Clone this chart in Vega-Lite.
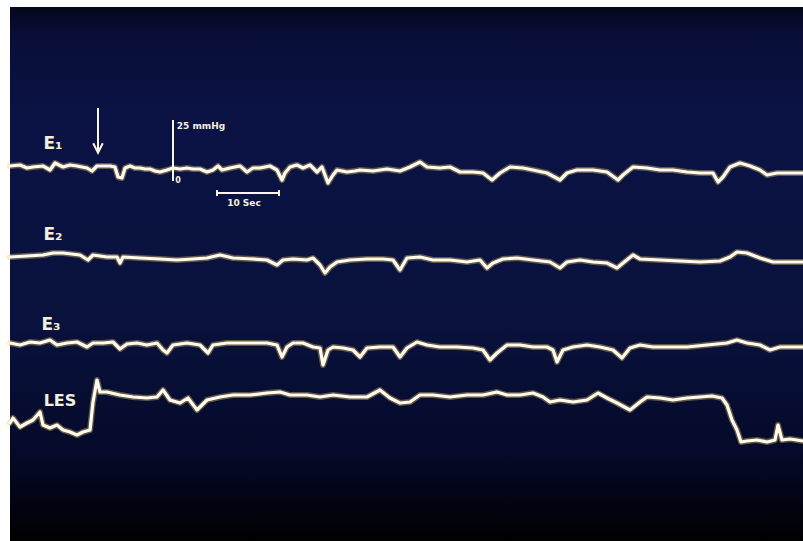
{
  "$schema": "https://vega.github.io/schema/vega-lite/v6.json",
  "width": 793,
  "height": 534,
  "autosize": {"type": "none"},
  "padding": {"left": 10, "top": 7, "right": 0, "bottom": 0},
  "background": "white",
  "title": {"text": "g", "font": "Liberation Serif", "fontSize": 22, "fontWeight": "normal", "color": "#000000", "anchor": "middle", "baseline": "alphabetic", "offset": 7, "frame": "group"},
  "config": {"view": {"stroke": null}},
  "datasets": {
    "traces": [
      {"trace":"E1","x":10,"v":375},{"trace":"E1","x":20,"v":376},{"trace":"E1","x":27,"v":373},{"trace":"E1","x":33,"v":374},{"trace":"E1","x":43,"v":375},{"trace":"E1","x":50,"v":371},{"trace":"E1","x":55,"v":378},{"trace":"E1","x":63,"v":374},{"trace":"E1","x":70,"v":376},{"trace":"E1","x":77,"v":375},{"trace":"E1","x":87,"v":373},{"trace":"E1","x":92,"v":370},{"trace":"E1","x":97,"v":375},{"trace":"E1","x":105,"v":375},{"trace":"E1","x":110,"v":375},{"trace":"E1","x":115,"v":374},{"trace":"E1","x":118,"v":364},{"trace":"E1","x":122,"v":363},{"trace":"E1","x":125,"v":373},{"trace":"E1","x":130,"v":375},{"trace":"E1","x":135,"v":373},{"trace":"E1","x":140,"v":373},{"trace":"E1","x":145,"v":372},{"trace":"E1","x":150,"v":372},{"trace":"E1","x":155,"v":370},{"trace":"E1","x":160,"v":369},{"trace":"E1","x":167,"v":371},{"trace":"E1","x":173,"v":373},{"trace":"E1","x":180,"v":372},{"trace":"E1","x":187,"v":373},{"trace":"E1","x":193,"v":372},{"trace":"E1","x":200,"v":372},{"trace":"E1","x":207,"v":369},{"trace":"E1","x":213,"v":371},{"trace":"E1","x":218,"v":375},{"trace":"E1","x":222,"v":371},{"trace":"E1","x":230,"v":373},{"trace":"E1","x":235,"v":374},{"trace":"E1","x":240,"v":375},{"trace":"E1","x":247,"v":369},{"trace":"E1","x":253,"v":373},{"trace":"E1","x":260,"v":373},{"trace":"E1","x":265,"v":374},{"trace":"E1","x":270,"v":375},{"trace":"E1","x":277,"v":371},{"trace":"E1","x":282,"v":361},{"trace":"E1","x":285,"v":368},{"trace":"E1","x":290,"v":374},{"trace":"E1","x":297,"v":376},{"trace":"E1","x":303,"v":373},{"trace":"E1","x":310,"v":376},{"trace":"E1","x":317,"v":369},{"trace":"E1","x":322,"v":374},{"trace":"E1","x":328,"v":358},{"trace":"E1","x":333,"v":366},{"trace":"E1","x":337,"v":371},{"trace":"E1","x":347,"v":369},{"trace":"E1","x":355,"v":370},{"trace":"E1","x":360,"v":371},{"trace":"E1","x":373,"v":370},{"trace":"E1","x":387,"v":372},{"trace":"E1","x":400,"v":370},{"trace":"E1","x":410,"v":374},{"trace":"E1","x":420,"v":379},{"trace":"E1","x":427,"v":374},{"trace":"E1","x":440,"v":373},{"trace":"E1","x":450,"v":374},{"trace":"E1","x":460,"v":369},{"trace":"E1","x":473,"v":369},{"trace":"E1","x":483,"v":368},{"trace":"E1","x":492,"v":361},{"trace":"E1","x":500,"v":368},{"trace":"E1","x":510,"v":374},{"trace":"E1","x":523,"v":373},{"trace":"E1","x":533,"v":371},{"trace":"E1","x":547,"v":368},{"trace":"E1","x":560,"v":361},{"trace":"E1","x":567,"v":368},{"trace":"E1","x":577,"v":371},{"trace":"E1","x":593,"v":371},{"trace":"E1","x":607,"v":369},{"trace":"E1","x":618,"v":361},{"trace":"E1","x":623,"v":366},{"trace":"E1","x":633,"v":374},{"trace":"E1","x":647,"v":373},{"trace":"E1","x":660,"v":371},{"trace":"E1","x":673,"v":371},{"trace":"E1","x":687,"v":369},{"trace":"E1","x":700,"v":368},{"trace":"E1","x":713,"v":368},{"trace":"E1","x":718,"v":359},{"trace":"E1","x":723,"v":364},{"trace":"E1","x":730,"v":374},{"trace":"E1","x":740,"v":378},{"trace":"E1","x":750,"v":375},{"trace":"E1","x":760,"v":371},{"trace":"E1","x":767,"v":366},{"trace":"E1","x":777,"v":368},{"trace":"E1","x":787,"v":368},{"trace":"E1","x":803,"v":368},

      {"trace":"E2","x":10,"v":284},{"trace":"E2","x":27,"v":285},{"trace":"E2","x":43,"v":286},{"trace":"E2","x":53,"v":288},{"trace":"E2","x":63,"v":288},{"trace":"E2","x":80,"v":286},{"trace":"E2","x":88,"v":281},{"trace":"E2","x":93,"v":286},{"trace":"E2","x":107,"v":284},{"trace":"E2","x":117,"v":284},{"trace":"E2","x":120,"v":278},{"trace":"E2","x":123,"v":284},{"trace":"E2","x":140,"v":283},{"trace":"E2","x":160,"v":282},{"trace":"E2","x":177,"v":281},{"trace":"E2","x":193,"v":282},{"trace":"E2","x":207,"v":283},{"trace":"E2","x":220,"v":286},{"trace":"E2","x":233,"v":283},{"trace":"E2","x":253,"v":282},{"trace":"E2","x":267,"v":281},{"trace":"E2","x":277,"v":276},{"trace":"E2","x":283,"v":281},{"trace":"E2","x":293,"v":282},{"trace":"E2","x":307,"v":281},{"trace":"E2","x":313,"v":283},{"trace":"E2","x":320,"v":276},{"trace":"E2","x":325,"v":268},{"trace":"E2","x":330,"v":274},{"trace":"E2","x":337,"v":279},{"trace":"E2","x":350,"v":281},{"trace":"E2","x":367,"v":282},{"trace":"E2","x":383,"v":282},{"trace":"E2","x":393,"v":281},{"trace":"E2","x":400,"v":271},{"trace":"E2","x":407,"v":283},{"trace":"E2","x":420,"v":284},{"trace":"E2","x":433,"v":281},{"trace":"E2","x":450,"v":281},{"trace":"E2","x":467,"v":279},{"trace":"E2","x":480,"v":281},{"trace":"E2","x":487,"v":273},{"trace":"E2","x":493,"v":278},{"trace":"E2","x":503,"v":282},{"trace":"E2","x":517,"v":283},{"trace":"E2","x":533,"v":281},{"trace":"E2","x":550,"v":279},{"trace":"E2","x":560,"v":273},{"trace":"E2","x":567,"v":279},{"trace":"E2","x":580,"v":281},{"trace":"E2","x":593,"v":279},{"trace":"E2","x":607,"v":278},{"trace":"E2","x":617,"v":273},{"trace":"E2","x":623,"v":278},{"trace":"E2","x":633,"v":286},{"trace":"E2","x":640,"v":282},{"trace":"E2","x":660,"v":281},{"trace":"E2","x":680,"v":280},{"trace":"E2","x":700,"v":279},{"trace":"E2","x":720,"v":280},{"trace":"E2","x":730,"v":284},{"trace":"E2","x":737,"v":289},{"trace":"E2","x":747,"v":288},{"trace":"E2","x":760,"v":283},{"trace":"E2","x":773,"v":279},{"trace":"E2","x":787,"v":279},{"trace":"E2","x":803,"v":279},

      {"trace":"E3","x":10,"v":198},{"trace":"E3","x":20,"v":196},{"trace":"E3","x":30,"v":199},{"trace":"E3","x":40,"v":198},{"trace":"E3","x":50,"v":201},{"trace":"E3","x":57,"v":196},{"trace":"E3","x":67,"v":198},{"trace":"E3","x":77,"v":199},{"trace":"E3","x":87,"v":194},{"trace":"E3","x":93,"v":198},{"trace":"E3","x":103,"v":198},{"trace":"E3","x":113,"v":199},{"trace":"E3","x":120,"v":192},{"trace":"E3","x":127,"v":197},{"trace":"E3","x":137,"v":198},{"trace":"E3","x":147,"v":196},{"trace":"E3","x":157,"v":198},{"trace":"E3","x":163,"v":191},{"trace":"E3","x":167,"v":188},{"trace":"E3","x":173,"v":196},{"trace":"E3","x":187,"v":198},{"trace":"E3","x":200,"v":196},{"trace":"E3","x":208,"v":188},{"trace":"E3","x":213,"v":196},{"trace":"E3","x":227,"v":198},{"trace":"E3","x":240,"v":198},{"trace":"E3","x":253,"v":198},{"trace":"E3","x":267,"v":198},{"trace":"E3","x":277,"v":196},{"trace":"E3","x":282,"v":184},{"trace":"E3","x":287,"v":194},{"trace":"E3","x":293,"v":198},{"trace":"E3","x":303,"v":198},{"trace":"E3","x":313,"v":194},{"trace":"E3","x":320,"v":193},{"trace":"E3","x":323,"v":176},{"trace":"E3","x":328,"v":191},{"trace":"E3","x":333,"v":194},{"trace":"E3","x":343,"v":193},{"trace":"E3","x":353,"v":191},{"trace":"E3","x":360,"v":184},{"trace":"E3","x":367,"v":193},{"trace":"E3","x":380,"v":194},{"trace":"E3","x":393,"v":194},{"trace":"E3","x":400,"v":184},{"trace":"E3","x":407,"v":193},{"trace":"E3","x":417,"v":199},{"trace":"E3","x":427,"v":196},{"trace":"E3","x":440,"v":194},{"trace":"E3","x":457,"v":194},{"trace":"E3","x":473,"v":193},{"trace":"E3","x":483,"v":191},{"trace":"E3","x":490,"v":181},{"trace":"E3","x":497,"v":188},{"trace":"E3","x":507,"v":196},{"trace":"E3","x":520,"v":196},{"trace":"E3","x":533,"v":194},{"trace":"E3","x":547,"v":194},{"trace":"E3","x":553,"v":191},{"trace":"E3","x":557,"v":179},{"trace":"E3","x":563,"v":191},{"trace":"E3","x":573,"v":194},{"trace":"E3","x":587,"v":196},{"trace":"E3","x":600,"v":194},{"trace":"E3","x":613,"v":191},{"trace":"E3","x":622,"v":183},{"trace":"E3","x":630,"v":193},{"trace":"E3","x":640,"v":196},{"trace":"E3","x":653,"v":194},{"trace":"E3","x":667,"v":194},{"trace":"E3","x":687,"v":194},{"trace":"E3","x":707,"v":196},{"trace":"E3","x":727,"v":198},{"trace":"E3","x":737,"v":201},{"trace":"E3","x":747,"v":198},{"trace":"E3","x":760,"v":196},{"trace":"E3","x":770,"v":191},{"trace":"E3","x":780,"v":194},{"trace":"E3","x":793,"v":194},{"trace":"E3","x":803,"v":194},

      {"trace":"LES","x":10,"v":118},{"trace":"LES","x":13,"v":123},{"trace":"LES","x":20,"v":114},{"trace":"LES","x":27,"v":118},{"trace":"LES","x":33,"v":121},{"trace":"LES","x":40,"v":129},{"trace":"LES","x":43,"v":116},{"trace":"LES","x":50,"v":113},{"trace":"LES","x":57,"v":116},{"trace":"LES","x":63,"v":111},{"trace":"LES","x":70,"v":109},{"trace":"LES","x":77,"v":106},{"trace":"LES","x":83,"v":109},{"trace":"LES","x":90,"v":111},{"trace":"LES","x":93,"v":139},{"trace":"LES","x":97,"v":161},{"trace":"LES","x":100,"v":149},{"trace":"LES","x":107,"v":149},{"trace":"LES","x":120,"v":146},{"trace":"LES","x":133,"v":144},{"trace":"LES","x":147,"v":143},{"trace":"LES","x":157,"v":144},{"trace":"LES","x":163,"v":151},{"trace":"LES","x":170,"v":141},{"trace":"LES","x":180,"v":138},{"trace":"LES","x":188,"v":143},{"trace":"LES","x":197,"v":131},{"trace":"LES","x":207,"v":141},{"trace":"LES","x":220,"v":144},{"trace":"LES","x":233,"v":146},{"trace":"LES","x":250,"v":146},{"trace":"LES","x":267,"v":148},{"trace":"LES","x":280,"v":149},{"trace":"LES","x":290,"v":146},{"trace":"LES","x":307,"v":146},{"trace":"LES","x":320,"v":144},{"trace":"LES","x":333,"v":146},{"trace":"LES","x":350,"v":144},{"trace":"LES","x":367,"v":144},{"trace":"LES","x":380,"v":151},{"trace":"LES","x":390,"v":143},{"trace":"LES","x":400,"v":138},{"trace":"LES","x":410,"v":139},{"trace":"LES","x":420,"v":146},{"trace":"LES","x":433,"v":146},{"trace":"LES","x":450,"v":144},{"trace":"LES","x":467,"v":146},{"trace":"LES","x":483,"v":146},{"trace":"LES","x":497,"v":149},{"trace":"LES","x":507,"v":146},{"trace":"LES","x":520,"v":146},{"trace":"LES","x":533,"v":148},{"trace":"LES","x":543,"v":144},{"trace":"LES","x":550,"v":139},{"trace":"LES","x":560,"v":141},{"trace":"LES","x":573,"v":139},{"trace":"LES","x":587,"v":141},{"trace":"LES","x":598,"v":148},{"trace":"LES","x":607,"v":143},{"trace":"LES","x":617,"v":138},{"trace":"LES","x":630,"v":131},{"trace":"LES","x":640,"v":139},{"trace":"LES","x":647,"v":144},{"trace":"LES","x":660,"v":143},{"trace":"LES","x":673,"v":141},{"trace":"LES","x":687,"v":143},{"trace":"LES","x":700,"v":144},{"trace":"LES","x":712,"v":145},{"trace":"LES","x":722,"v":143},{"trace":"LES","x":727,"v":136},{"trace":"LES","x":732,"v":121},{"trace":"LES","x":737,"v":111},{"trace":"LES","x":741,"v":99},{"trace":"LES","x":747,"v":100},{"trace":"LES","x":757,"v":101},{"trace":"LES","x":767,"v":99},{"trace":"LES","x":775,"v":101},{"trace":"LES","x":778,"v":116},{"trace":"LES","x":782,"v":101},{"trace":"LES","x":790,"v":102},{"trace":"LES","x":803,"v":100}
    ],
    "labels": [
      {"label":"E₁","x":53,"v":397,"size":17},
      {"label":"E₂","x":53,"v":306,"size":17},
      {"label":"E₃","x":51,"v":216,"size":17},
      {"label":"LES","x":60,"v":140,"size":16},
      {"label":"25 mmHg","x":201,"v":415,"size":9},
      {"label":"0","x":178,"v":360,"size":8},
      {"label":"10 Sec","x":244,"v":338,"size":9}
    ],
    "rules": [
      {"part":"arrow","x":98,"x2":98,"v":433,"v2":389},
      {"part":"calibration","x":173,"x2":173,"v":421,"v2":360},
      {"part":"bar","x":217,"x2":279,"v":348,"v2":348},
      {"part":"barL","x":217,"x2":217,"v":351,"v2":345},
      {"part":"barR","x":279,"x2":279,"v":351,"v2":345}
    ]
  },
  "layer": [
    {
      "data": {"values": [{"x": 10, "x2": 803, "v": 0, "v2": 534}]},
      "mark": {"type": "rect", "fill": {"gradient": "linear", "x1": 0.5, "y1": 1, "x2": 0.5, "y2": 0, "stops": [{"offset": 0, "color": "#000000"}, {"offset": 0.06, "color": "#020310"}, {"offset": 0.17, "color": "#050a2a"}, {"offset": 0.4, "color": "#09113c"}, {"offset": 0.8, "color": "#0a1344"}, {"offset": 0.95, "color": "#080e36"}, {"offset": 1, "color": "#04071c"}]}},
      "encoding": {
        "x": {"field": "x", "type": "quantitative", "scale": {"domain": [10, 803], "nice": false, "zero": false}, "axis": null},
        "x2": {"field": "x2"},
        "y": {"field": "v", "type": "quantitative", "scale": {"domain": [0, 534], "nice": false, "zero": false}, "axis": null},
        "y2": {"field": "v2"}
      }
    },
    {
      "data": {"name": "traces"},
      "mark": {"type": "line", "color": "#e6c06a", "strokeWidth": 6, "opacity": 0.4, "strokeJoin": "round", "strokeCap": "round"},
      "encoding": {
        "x": {"field": "x", "type": "quantitative"},
        "y": {"field": "v", "type": "quantitative"},
        "detail": {"field": "trace"}
      }
    },
    {
      "data": {"name": "traces"},
      "mark": {"type": "line", "color": "#fffbea", "strokeWidth": 3.2, "strokeJoin": "round", "strokeCap": "round"},
      "encoding": {
        "x": {"field": "x", "type": "quantitative"},
        "y": {"field": "v", "type": "quantitative"},
        "detail": {"field": "trace"}
      }
    },
    {
      "data": {"name": "rules"},
      "mark": {"type": "rule", "color": "#fbf5e4", "strokeWidth": 2},
      "encoding": {
        "x": {"field": "x", "type": "quantitative"},
        "x2": {"field": "x2"},
        "y": {"field": "v", "type": "quantitative"},
        "y2": {"field": "v2"}
      }
    },
    {
      "data": {"values": [{"x": 98, "v": 393}]},
      "mark": {"type": "point", "shape": "M-1,-1L0,1L1,-1", "filled": false, "stroke": "#fbf5e4", "strokeWidth": 2, "size": 90, "opacity": 1},
      "encoding": {
        "x": {"field": "x", "type": "quantitative"},
        "y": {"field": "v", "type": "quantitative"}
      }
    },
    {
      "data": {"name": "labels"},
      "mark": {"type": "text", "color": "#f6efdd", "font": "DejaVu Sans", "fontWeight": "bold", "align": "center", "baseline": "middle"},
      "encoding": {
        "x": {"field": "x", "type": "quantitative"},
        "y": {"field": "v", "type": "quantitative"},
        "text": {"field": "label"},
        "size": {"field": "size", "type": "quantitative", "scale": null, "legend": null}
      }
    }
  ]
}
